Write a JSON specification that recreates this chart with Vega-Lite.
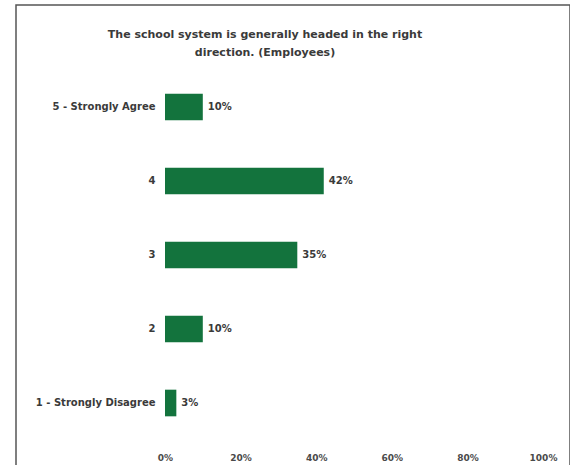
{
  "$schema": "https://vega.github.io/schema/vega-lite/v6.json",
  "autosize": "none",
  "padding": {"left": 16, "top": 5, "right": 0, "bottom": 0},
  "width": 554,
  "height": 470,
  "background": "white",
  "title": {
    "text": ["The school system is generally headed in the right", "direction. (Employees)"],
    "anchor": "middle",
    "frame": "group",
    "offset": -53,
    "dx": -28,
    "font": "DejaVu Sans",
    "fontSize": 11,
    "fontWeight": "bold",
    "color": "#3a3a3a",
    "lineHeight": 18
  },
  "data": {
    "values": [
      {"rating": "5 - Strongly Agree", "share": 0.10},
      {"rating": "4", "share": 0.42},
      {"rating": "3", "share": 0.35},
      {"rating": "2", "share": 0.10},
      {"rating": "1 - Strongly Disagree", "share": 0.03}
    ]
  },
  "encoding": {
    "y": {
      "field": "rating",
      "type": "nominal",
      "sort": null,
      "scale": {"range": [65, 435], "paddingInner": 0.64, "paddingOuter": 0.32},
      "axis": {
        "title": null,
        "domain": false,
        "ticks": false,
        "offset": -149,
        "labelPadding": 10,
        "labelFont": "DejaVu Sans",
        "labelFontSize": 10,
        "labelFontWeight": "bold",
        "labelColor": "#3a3a3a"
      }
    },
    "x": {
      "field": "share",
      "type": "quantitative",
      "scale": {"domain": [0, 1], "range": [149, 527], "nice": false},
      "axis": {
        "title": null,
        "format": ".0%",
        "values": [0, 0.2, 0.4, 0.6, 0.8, 1],
        "grid": false,
        "domain": false,
        "ticks": false,
        "offset": -22,
        "labelPadding": 0,
        "labelFont": "DejaVu Sans",
        "labelFontSize": 9,
        "labelFontWeight": "bold",
        "labelColor": "#4a4a4a",
        "labelFlush": false
      }
    }
  },
  "layer": [
    {"mark": {"type": "bar", "color": "#13733d"}},
    {
      "mark": {
        "type": "text",
        "align": "left",
        "dx": 5,
        "font": "DejaVu Sans",
        "fontSize": 10,
        "fontWeight": "bold",
        "color": "#3a3a3a"
      },
      "encoding": {"text": {"field": "share", "type": "quantitative", "format": ".0%"}}
    }
  ],
  "config": {
    "view": {"stroke": "#555555", "strokeWidth": 1.5}
  }
}
